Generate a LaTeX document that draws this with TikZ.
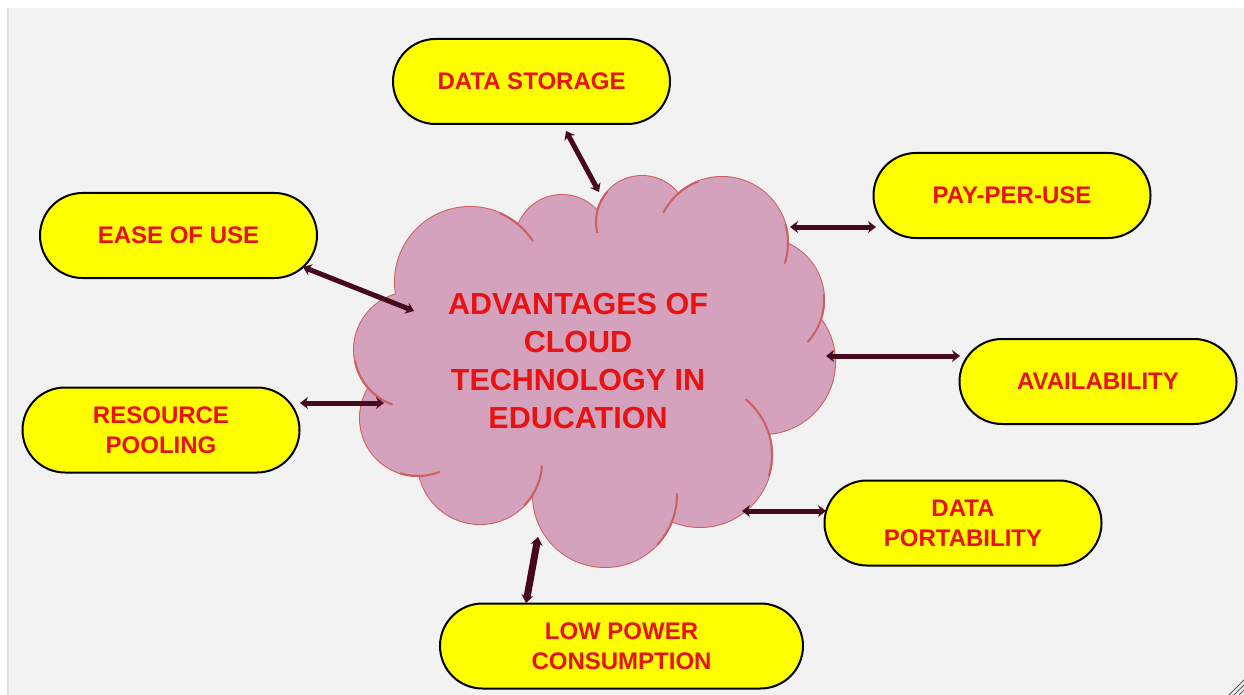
\documentclass[tikz,border=0pt]{standalone}
\usepackage{fontspec}
\setmainfont{Liberation Sans}
\usetikzlibrary{arrows.meta,shapes.misc}
\definecolor{bg}{RGB}{242,242,242}
\definecolor{edgegray}{RGB}{222,222,222}
\definecolor{cloudfill}{RGB}{212,162,188}
\definecolor{cloudline}{RGB}{205,95,95}
\definecolor{boxyellow}{RGB}{255,255,0}
\definecolor{txtred}{RGB}{232,18,18}
\definecolor{arrowc}{RGB}{70,8,28}
\tikzset{
  pill/.style={rounded rectangle, draw=black, line width=2pt, fill=boxyellow,
    minimum height=85pt, minimum width=277pt, inner sep=0pt,
    font=\fontsize{24}{30}\selectfont\bfseries, text=txtred, align=center},
  link/.style={arrowc, line width=5pt, {Stealth[length=8pt,width=12pt]}-{Stealth[length=8pt,width=12pt]}},
  cloudedge/.style={cloudline, line width=2pt},
}
\newcommand\cloudhook[4]{%
  \begin{scope}\clip (#3) circle (#4pt);\draw[cloudedge] (#1) circle (#2pt);\end{scope}}
\begin{document}
\begin{tikzpicture}[x=1pt,y=-1pt]
\useasboundingbox (0,0) rectangle (1244,695);
% background
\fill[bg] (0,0) rectangle (1244,695);
\fill[white] (0,0) rectangle (1244,8);
\fill[white] (0,0) rectangle (7,695);
\draw[edgegray, line width=1.5pt] (8,8) -- (8,695);
\foreach \k in {0,5,10,15} {\draw[gray!70!black, line width=1pt] (1244-\k,695) -- (1244,695-\k);}
% cloud: outline pass then fill pass
\def\cloudcircles{470/282/75, 562/242/47, 642/222/46, 722/243/66, 762/300/62,
  763/362/72, 700/455/72, 605/495/72, 480/462/62, 418/418/58, 412/350/58}
\foreach \cx/\cy/\r in \cloudcircles {\draw[cloudedge] (\cx,\cy) circle (\r pt);}
\foreach \cx/\cy/\r in \cloudcircles {\fill[cloudfill] (\cx,\cy) circle (\r pt);}
\fill[cloudfill] (430,230) rectangle (750,490);
% inner hooks
\cloudhook{470,282}{75}{518,225}{22}
\cloudhook{642,222}{46}{597,211}{22}
\cloudhook{722,243}{66}{678,194}{24}
\cloudhook{722,243}{66}{788,244}{20}
\cloudhook{762,300}{62}{821,320}{26}
\cloudhook{700,455}{72}{769,434}{42}
\cloudhook{605,495}{72}{672,521}{28}
\cloudhook{480,462}{62}{534,486}{22}
\cloudhook{418,418}{58}{420,476}{20}
\cloudhook{412,350}{58}{368,388}{30}
% title
\node[font=\fontsize{30.5}{37.7}\selectfont\bfseries, text=txtred, align=center, inner sep=0pt]
  (cloud) at (578,361) {ADVANTAGES OF\\CLOUD\\TECHNOLOGY IN\\EDUCATION};
% connector end points
\coordinate (ds-e) at (566,131);   \coordinate (cl-ds) at (599,192);
\coordinate (eou-e) at (303,267);  \coordinate (cl-eou) at (414,311);
\coordinate (rp-e) at (300,403);   \coordinate (cl-rp) at (384,403);
\coordinate (ppu-e) at (876,227);  \coordinate (cl-ppu) at (790,227);
\coordinate (av-e) at (960,356);   \coordinate (cl-av) at (826,356);
\coordinate (dp-e) at (826,511);   \coordinate (cl-dp) at (742,511);
\coordinate (lpc-e) at (526,603);  \coordinate (cl-lpc) at (538,537);
\draw[link] (ds-e) -- (cl-ds);
\draw[link] (eou-e) -- (cl-eou);
\draw[link] (rp-e) -- (cl-rp);
\draw[link] (ppu-e) -- (cl-ppu);
\draw[link] (av-e) -- (cl-av);
\draw[link] (dp-e) -- (cl-dp);
\draw[link, line width=7pt] (lpc-e) -- (cl-lpc);
% boxes
\node[pill] (ds) at (531.5,81.5) {DATA STORAGE};
\node[pill] (ppu) at (1012,195.5) {PAY-PER-USE};
\node[pill] (eou) at (178.5,235.5) {EASE OF USE};
\node[pill] (av) at (1098,381.5) {AVAILABILITY};
\node[pill] (rp) at (161,430) {RESOURCE\\POOLING};
\node[pill] (dp) at (963,523) {DATA\\PORTABILITY};
\node[pill, minimum width=363pt] (lpc) at (621.5,646) {LOW POWER\\CONSUMPTION};
\end{tikzpicture}
\end{document}
